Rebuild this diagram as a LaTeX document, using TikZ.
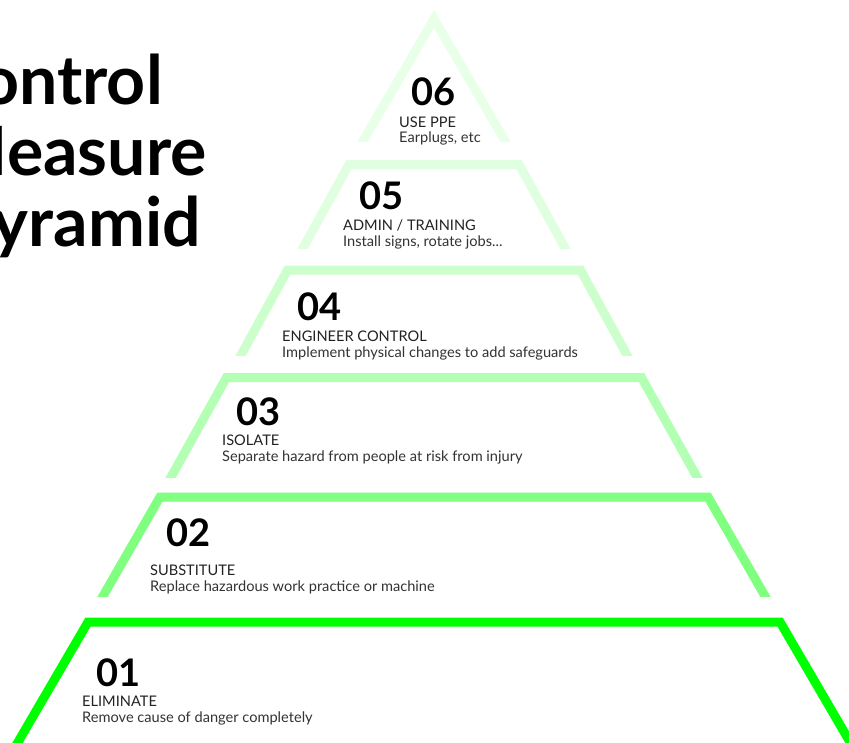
\documentclass[tikz,border=0pt]{standalone}
\usepackage{fontspec}
\setmainfont{Lato}
\usetikzlibrary{calc}
\definecolor{gA}{HTML}{00FF00}
\definecolor{gB}{HTML}{80FF80}
\definecolor{gC}{HTML}{B3FFB3}
\definecolor{gD}{HTML}{CCFFCC}
\definecolor{gE}{HTML}{E0FFE0}
\definecolor{gF}{HTML}{E8FFE8}
\definecolor{txtdark}{HTML}{222222}
\definecolor{txtdesc}{HTML}{333333}
\begin{document}
\begin{tikzpicture}[x=1pt,y=-1pt,
  tier/.style={line width=9pt, line join=miter, miter limit=10},
  num/.style={anchor=base west, inner sep=0pt, text=black, font=\fontsize{38}{38}\selectfont\bfseries},
  lbl/.style={anchor=base west, inner sep=0pt, text=txtdark, font=\fontsize{14.6}{14.6}\selectfont},
  desc/.style={anchor=base west, inner sep=0pt, text=txtdesc, font=\fontsize{14.6}{14.6}\selectfont},
  ttl/.style={anchor=base east, inner sep=0pt, text=black, font=\fontsize{68}{68}\selectfont\bfseries}]
\useasboundingbox (0,0) rectangle (849,742);
\clip (0,0) rectangle (849,742);
\fill[white] (0,0) rectangle (849,742);

% title
\node[ttl] (t1) at (163,104) {Control};
\node[ttl] (t2) at (207,175) {Measure};
\node[ttl] (t3) at (201,246) {Pyramid};

% tier 6
\coordinate (f-a) at (434,19);
\coordinate (f-l) at (363,141);
\coordinate (f-r) at (505,141);
\begin{scope}
\clip (0,0) rectangle (849,141);
\draw[tier, draw=gF] ($(f-a)!1.2!(f-l)$) -- (f-a) -- ($(f-a)!1.2!(f-r)$);
\end{scope}
% tier 5
\coordinate (e-tl) at (349,164.5);
\coordinate (e-tr) at (519,164.5);
\coordinate (e-bl) at (303,248);
\coordinate (e-br) at (565,248);
\begin{scope}
\clip (0,0) rectangle (849,248);
\draw[tier, draw=gE] ($(e-tl)!1.2!(e-bl)$) -- (e-tl) -- (e-tr) -- ($(e-tr)!1.2!(e-br)$);
\end{scope}
% tier 4
\coordinate (d-tl) at (287.5,270);
\coordinate (d-tr) at (580.5,270);
\coordinate (d-bl) at (241,355);
\coordinate (d-br) at (627,355);
\begin{scope}
\clip (0,0) rectangle (849,355);
\draw[tier, draw=gD] ($(d-tl)!1.2!(d-bl)$) -- (d-tl) -- (d-tr) -- ($(d-tr)!1.2!(d-br)$);
\end{scope}
% tier 3
\coordinate (c-tl) at (226.5,377.5);
\coordinate (c-tr) at (641.5,377.5);
\coordinate (c-bl) at (171,477);
\coordinate (c-br) at (697,477);
\begin{scope}
\clip (0,0) rectangle (849,477);
\draw[tier, draw=gC] ($(c-tl)!1.2!(c-bl)$) -- (c-tl) -- (c-tr) -- ($(c-tr)!1.2!(c-br)$);
\end{scope}
% tier 2
\coordinate (b-tl) at (160,497);
\coordinate (b-tr) at (708,497);
\coordinate (b-bl) at (103,596);
\coordinate (b-br) at (765,596);
\begin{scope}
\clip (0,0) rectangle (849,596);
\draw[tier, draw=gB] ($(b-tl)!1.2!(b-bl)$) -- (b-tl) -- (b-tr) -- ($(b-tr)!1.2!(b-br)$);
\end{scope}
% tier 1
\coordinate (a-tl) at (88,622);
\coordinate (a-tr) at (780,622);
\coordinate (a-bl) at (18,742);
\coordinate (a-br) at (850,742);
\draw[tier, draw=gA] ($(a-tl)!1.2!(a-bl)$) -- (a-tl) -- (a-tr) -- ($(a-tr)!1.2!(a-br)$);

% texts
\node[num] (n6) at (411,105) {06};
\node[lbl] (l6) at (399,127) {USE PPE};
\node[desc] (d6) at (399,142) {Earplugs, etc};

\node[num] (n5) at (359,209) {05};
\node[lbl] (l5) at (343,230) {ADMIN / TRAINING};
\node[desc] (d5) at (343,246) {Install signs, rotate jobs...};

\node[num] (n4) at (297,320) {04};
\node[lbl] (l4) at (282,341) {ENGINEER CONTROL};
\node[desc] (d4) at (282,357) {Implement physical changes to add safeguards};

\node[num] (n3) at (236,425) {03};
\node[lbl] (l3) at (222,445) {ISOLATE};
\node[desc] (d3) at (222,461) {Separate hazard from people at risk from injury};

\node[num] (n2) at (166,546) {02};
\node[lbl] (l2) at (150,575) {SUBSTITUTE};
\node[desc] (d2) at (150,591) {Replace hazardous work practice or machine};

\node[num] (n1) at (96,686) {01};
\node[lbl] (l1) at (82,706) {ELIMINATE};
\node[desc] (d1) at (82,722) {Remove cause of danger completely};
\end{tikzpicture}
\end{document}
